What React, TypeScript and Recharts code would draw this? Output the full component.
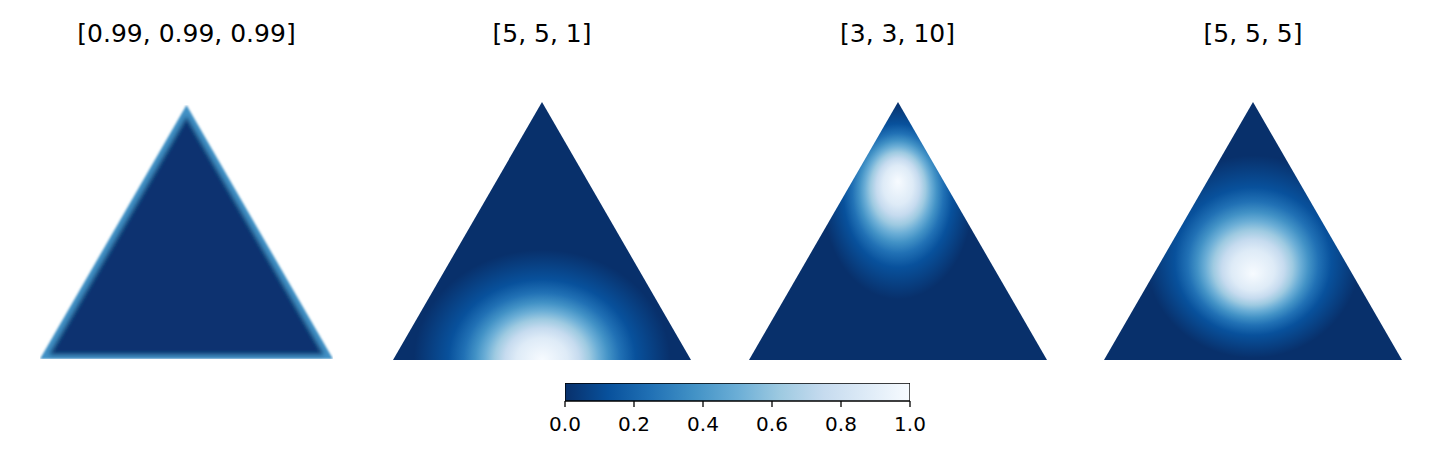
import { AreaChart, Area, XAxis, YAxis, BarChart, Bar } from "recharts";

const H = Math.sqrt(3) / 2;
const FONT = "DejaVu Sans, Verdana, sans-serif";

// panel titles (Dirichlet concentration parameters)
const TITLES = ["[0.99, 0.99, 0.99]", "[5, 5, 1]", "[3, 3, 10]", "[5, 5, 5]"];

// simplex corners, x across the base, y up (triangle height = H)
const CORNER_X = [0, 0.5, 1];
const CORNER_Y = [0, H, 0];

// Blues_r, low -> high
const BLUES_R = ["#08306b", "#08519c", "#2171b5", "#4292c6", "#6baed6", "#9ecae1", "#c6dbef", "#deebf7", "#f7fbff"];

// density peak of panels 2..4 (same units as the corners)
const PEAK_X = [0.5, 0.5, 0.5];
const PEAK_Y = [0.0, 0.6, 0.289];
// how far the bright region reaches before it fades to the darkest blue
const REACH_X = [0.43, 0.25, 0.36];
const REACH_Y = [0.37, 0.33, 0.34];
// egg shape: shift of the peak inside the fading region (fraction of reach)
const SKEW = [0, 0.2, -0.17];

// panel 1: nearly flat density, lighter along the edges
const EDGE_COLOR = "#4292c6";
const FLAT_COLOR = "#0a3370";

// colour bar
const CB_TICKS = [0, 0.2, 0.4, 0.6, 0.8, 1.0];
const COLORBAR = [{ name: "cb", value: 1 }];

// where each colour stop sits between the edge (1) and the peak (0) of a blob
const STOP_OFFSETS = [1, 0.73, 0.61, 0.52, 0.445, 0.37, 0.29, 0.2, 0];

const triangle = CORNER_X.map((x, i) => ({ x, y: CORNER_Y[i] }));

const LEFTS = [40, 393, 748.5, 1104];
const WIDTHS = [293, 298, 298, 298];
const TOPS = [105, 102, 102, 102];

function Simplex({ idx }: { idx: number }) {
  const width = WIDTHS[idx];
  const height = Math.round(width * H);
  const gid = `dens${idx}`;
  let fill = FLAT_COLOR;
  let defs = null;

  if (idx === 0) {
    fill = EDGE_COLOR;
    defs = (
      <filter id="edgeGlow" x="-10%" y="-10%" width="120%" height="120%">
        <feMorphology in="SourceAlpha" operator="erode" radius="4" result="core" />
        <feGaussianBlur in="core" stdDeviation="2" result="coreSoft" />
        <feFlood floodColor={FLAT_COLOR} result="dark" />
        <feComposite in="dark" in2="coreSoft" operator="in" result="darkCore" />
        <feMerge result="merged">
          <feMergeNode in="SourceGraphic" />
          <feMergeNode in="darkCore" />
        </feMerge>
        <feGaussianBlur in="merged" stdDeviation="0.8" />
      </filter>
    );
  } else {
    const k = idx - 1;
    const rx = REACH_X[k];
    const ry = REACH_Y[k] / H;
    const px = PEAK_X[k];
    const py = 1 - PEAK_Y[k] / H;
    const s = SKEW[k];
    fill = `url(#${gid})`;
    defs = (
      <radialGradient
        id={gid}
        gradientUnits="objectBoundingBox"
        cx={0}
        cy={0}
        r={1}
        fx={0}
        fy={-s}
        gradientTransform={`translate(${px} ${py + s * ry}) scale(${rx} ${ry})`}
      >
        {BLUES_R.map((c, i) => (
          <stop key={i} offset={STOP_OFFSETS[i]} stopColor={c} />
        )).reverse()}
      </radialGradient>
    );
  }

  return (
    <>
      <div
        style={{
          position: "absolute",
          left: LEFTS[idx] + width / 2 - 170,
          top: 20,
          width: 340,
          textAlign: "center",
          fontFamily: FONT,
          fontSize: 25,
          lineHeight: "28px",
          color: "#000",
        }}
      >
        {TITLES[idx]}
      </div>
      <div style={{ position: "absolute", left: LEFTS[idx], top: TOPS[idx] }}>
        <AreaChart width={width} height={height} data={triangle} margin={{ top: 0, right: 0, bottom: 0, left: 0 }}>
          <defs>{defs}</defs>
          <XAxis dataKey="x" type="number" domain={[0, 1]} allowDataOverflow hide />
          <YAxis type="number" domain={[0, H]} allowDataOverflow hide />
          <Area
            dataKey="y"
            type="linear"
            fill={fill}
            fillOpacity={1}
            stroke="none"
            dot={false}
            activeDot={false}
            filter={idx === 0 ? "url(#edgeGlow)" : undefined}
            isAnimationActive={false}
          />
        </AreaChart>
      </div>
    </>
  );
}

export default function App() {
  return (
    <div style={{ position: "absolute", left: 0, top: 0, width: 1440, height: 450, background: "#fff", overflow: "hidden" }}>
      {TITLES.map((_, i) => (
        <Simplex key={i} idx={i} />
      ))}
      <div style={{ position: "absolute", left: 545, top: 383 }}>
        <BarChart
          layout="vertical"
          width={385}
          height={70}
          data={COLORBAR}
          margin={{ top: 0, right: 20, bottom: 0, left: 20 }}
          barCategoryGap={0}
        >
          <defs>
            <linearGradient id="cmap" x1="0" y1="0" x2="1" y2="0">
              {BLUES_R.map((c, i) => (
                <stop key={i} offset={i / (BLUES_R.length - 1)} stopColor={c} />
              ))}
            </linearGradient>
          </defs>
          <XAxis
            type="number"
            domain={[0, 1]}
            allowDataOverflow
            ticks={CB_TICKS}
            tickFormatter={(v: number) => v.toFixed(1)}
            axisLine={false}
            tickSize={6}
            tickMargin={10}
            tickLine={{ stroke: "#000", strokeWidth: 1.3 }}
            tick={{ fontSize: 20, fill: "#000", fontFamily: FONT }}
            height={52}
            interval={0}
          />
          <YAxis type="category" dataKey="name" hide />
          <Bar dataKey="value" fill="url(#cmap)" stroke="#000" strokeWidth={1.3} isAnimationActive={false} />
        </BarChart>
      </div>
    </div>
  );
}
